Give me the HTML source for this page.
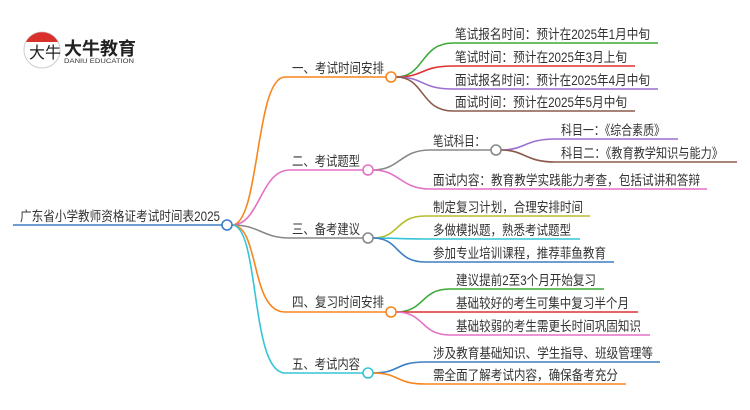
<!DOCTYPE html>
<html><head><meta charset="utf-8"><style>
html,body{margin:0;padding:0;background:#fff}
svg{display:block}
text{font-family:"Liberation Sans","Noto Sans CJK SC",sans-serif;font-size:13.5px;fill:#333}
</style></head><body>
<svg width="750" height="410" viewBox="0 0 750 410" xmlns="http://www.w3.org/2000/svg">
<g fill="none" stroke-width="1.6">
<line x1="13" y1="225" x2="222" y2="225" stroke="#3b7fc4"/>
<path d="M232 225 C260 225 255 77 285 77 L386 77" stroke="#f7861c"/>
<path d="M232 225 C260 225 260 170 290 170 L363 170" stroke="#e371c6"/>
<path d="M232 225 C260 225 262 238 290 238 L363 238" stroke="#888"/>
<path d="M232 225 C260 225 250 312 285 312 L386 312" stroke="#f7861c"/>
<path d="M232 225 C260 225 250 373 285 373 L363 373" stroke="#36c5d8"/>
<path d="M396 77 C425 77 420 43 453 43 L658 43" stroke="#3aaa35"/>
<path d="M396 77 C425 77 420 66 453 66 L635 66" stroke="#e03030"/>
<path d="M396 77 C425 77 420 89 453 89 L658 89" stroke="#9a6fd0"/>
<path d="M396 77 C425 77 420 111 453 111 L635 111" stroke="#8b5a4a"/>
<path d="M373 170 C400 170 400 150 430 150 L491 150" stroke="#888"/>
<path d="M373 170 C400 170 400 189 430 189 L707 189" stroke="#e371c6"/>
<path d="M501 150 C525 150 525 139 555 139 L678 139" stroke="#9a6fd0"/>
<path d="M501 150 C525 150 525 162 555 162 L737 162" stroke="#8b5a4a"/>
<path d="M373 238 C400 238 395 216 425 216 L590 216" stroke="#b5bd2a"/>
<path d="M373 238 C400 238 395 239 425 239 L580 239" stroke="#36c5d8"/>
<path d="M373 238 C400 238 395 262 425 262 L614 262" stroke="#3b7fc4"/>
<path d="M396 312 C425 312 420 289 450 289 L604 289" stroke="#3aaa35"/>
<path d="M396 312 C425 312 420 312 450 312 L638 312" stroke="#e03030"/>
<path d="M396 312 C425 312 420 335 450 335 L650 335" stroke="#e371c6"/>
<path d="M373 373 C400 373 395 362 425 362 L660 362" stroke="#3b7fc4"/>
<path d="M373 373 C400 373 395 384 425 384 L626 384" stroke="#f7861c"/>
</g>
<g fill="#fff" stroke-width="1.6">
<circle cx="227" cy="225" r="5" stroke="#3b7fc4"/>
<circle cx="391" cy="77" r="5" stroke="#f7861c"/>
<circle cx="368" cy="170" r="5" stroke="#e371c6"/>
<circle cx="368" cy="238" r="5" stroke="#888"/>
<circle cx="391" cy="312" r="5" stroke="#f7861c"/>
<circle cx="368" cy="373" r="5" stroke="#36c5d8"/>
<circle cx="496" cy="150" r="5" stroke="#888"/>
</g>
<g>
<text x="20" y="221" textLength="200" lengthAdjust="spacingAndGlyphs">广东省小学教师资格证考试时间表2025</text>
<text x="292" y="73" textLength="92" lengthAdjust="spacingAndGlyphs">一、考试时间安排</text>
<text x="292" y="166" textLength="68" lengthAdjust="spacingAndGlyphs">二、考试题型</text>
<text x="292" y="234" textLength="68" lengthAdjust="spacingAndGlyphs">三、备考建议</text>
<text x="292" y="307" textLength="92" lengthAdjust="spacingAndGlyphs">四、复习时间安排</text>
<text x="292" y="369" textLength="68" lengthAdjust="spacingAndGlyphs">五、考试内容</text>
<text x="455" y="39" textLength="195" lengthAdjust="spacingAndGlyphs">笔试报名时间：预计在2025年1月中旬</text>
<text x="455" y="62" textLength="172" lengthAdjust="spacingAndGlyphs">笔试时间：预计在2025年3月上旬</text>
<text x="455" y="85" textLength="195" lengthAdjust="spacingAndGlyphs">面试报名时间：预计在2025年4月中旬</text>
<text x="455" y="107" textLength="172" lengthAdjust="spacingAndGlyphs">面试时间：预计在2025年5月中旬</text>
<text x="433" y="146" textLength="52" lengthAdjust="spacingAndGlyphs">笔试科目：</text>
<text x="561" y="135" textLength="104" lengthAdjust="spacingAndGlyphs">科目一：《综合素质》</text>
<text x="561" y="158" textLength="162" lengthAdjust="spacingAndGlyphs">科目二：《教育教学知识与能力》</text>
<text x="433" y="185" textLength="267" lengthAdjust="spacingAndGlyphs">面试内容：教育教学实践能力考查，包括试讲和答辩</text>
<text x="433" y="212" textLength="150" lengthAdjust="spacingAndGlyphs">制定复习计划，合理安排时间</text>
<text x="433" y="235" textLength="138" lengthAdjust="spacingAndGlyphs">多做模拟题，熟悉考试题型</text>
<text x="433" y="258" textLength="173" lengthAdjust="spacingAndGlyphs">参加专业培训课程，推荐菲鱼教育</text>
<text x="456" y="285" textLength="140" lengthAdjust="spacingAndGlyphs">建议提前2至3个月开始复习</text>
<text x="456" y="308" textLength="173" lengthAdjust="spacingAndGlyphs">基础较好的考生可集中复习半个月</text>
<text x="456" y="331" textLength="185" lengthAdjust="spacingAndGlyphs">基础较弱的考生需更长时间巩固知识</text>
<text x="433" y="358" textLength="220" lengthAdjust="spacingAndGlyphs">涉及教育基础知识、学生指导、班级管理等</text>
<text x="433" y="380" textLength="185" lengthAdjust="spacingAndGlyphs">需全面了解考试内容，确保备考充分</text>
</g>
<circle cx="42" cy="50" r="18" fill="#fff" stroke="#ccc" stroke-width="1"/>
<path d="M26 42 A18 18 0 0 1 58 42 Z" fill="#d9302c"/>
<text x="29" y="58" style="font-size:16px;fill:#222">大牛</text>
<text x="64" y="55" style="font-size:18px;font-weight:bold;fill:#222" textLength="72" lengthAdjust="spacingAndGlyphs">大牛教育</text>
<text x="64" y="63" style="font-size:6.5px;fill:#333" textLength="70" lengthAdjust="spacingAndGlyphs">DANIU EDUCATION</text>
</svg>
</body></html>
